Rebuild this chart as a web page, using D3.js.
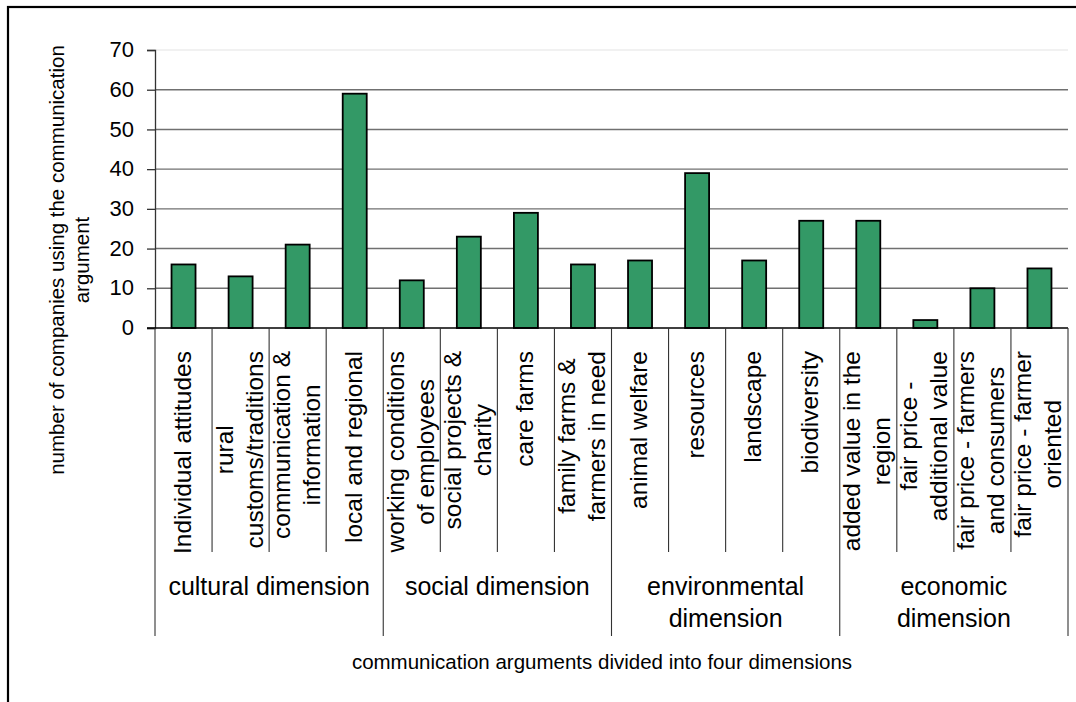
<!DOCTYPE html>
<html>
<head>
<meta charset="utf-8">
<script src="https://cdn.jsdelivr.net/npm/d3@7"></script>
<style>
  html, body { margin: 0; padding: 0; background: #fff; }
  svg { display: block; font-family: "Liberation Sans", Arial, sans-serif; }
</style>
</head>
<body>
<svg id="chart" width="1076" height="702"></svg>
<script>
// ---- data ----
const categories = [
  ["Individual attitudes"],
  ["rural", "customs/traditions"],
  ["communication &", "information"],
  ["local and regional"],
  ["working conditions", "of employees"],
  ["social projects &", "charity"],
  ["care farms"],
  ["family farms &", "farmers in need"],
  ["animal welfare"],
  ["resources"],
  ["landscape"],
  ["biodiversity"],
  ["added value in the", "region"],
  ["fair price -", "additional value"],
  ["fair price - farmers", "and consumers"],
  ["fair price - farmer", "oriented"]
];
const values = [16, 13, 21, 59, 12, 23, 29, 16, 17, 39, 17, 27, 27, 2, 10, 15];
const dimensions = [
  ["cultural dimension"],
  ["social dimension"],
  ["environmental", "dimension"],
  ["economic", "dimension"]
];
const dimensionSizes = [4, 4, 4, 4];
const yTicks = [0, 10, 20, 30, 40, 50, 60, 70];
const yTitle = ["number of companies using the communication", "argument"];
const xTitle = "communication arguments divided into four dimensions";

// ---- layout ----
const svg = d3.select("#chart");
const plotL = 155, plotR = 1068, plotT = 50, plotB = 328;

const x = d3.scaleBand().domain(d3.range(categories.length)).range([plotL, plotR]).padding(0);
const y = d3.scaleLinear().domain([0, 70]).range([plotB, plotT]);

// outer border (extends beyond the view on right/bottom)
svg.append("rect")
  .attr("x", 8).attr("y", 7).attr("width", 1200).attr("height", 900)
  .attr("fill", "none").attr("stroke", "#000").attr("stroke-width", 2.2);

// gridlines
svg.append("g").selectAll("line").data(yTicks.filter(d => d > 0)).join("line")
  .attr("x1", plotL).attr("x2", plotR)
  .attr("y1", d => y(d)).attr("y2", d => y(d))
  .attr("stroke", d => d === 70 ? "#ececec" : "#707070")
  .attr("stroke-width", 1.4);

// y axis
const yAxis = svg.append("g").attr("transform", `translate(${plotL},0)`)
  .call(d3.axisLeft(y).tickValues(yTicks).tickSize(8).tickPadding(13));
yAxis.select(".domain").attr("stroke", "#333").attr("stroke-width", 1.3);
yAxis.selectAll(".tick line").attr("stroke", "#333").attr("stroke-width", 1.3);
yAxis.selectAll(".tick text")
  .attr("font-family", "Liberation Sans, Arial, sans-serif")
  .attr("font-size", 22).attr("fill", "#000").attr("dy", "0.3em");

// bars
const bw = 24;
svg.append("g").selectAll("rect").data(values).join("rect")
  .attr("x", (d, i) => x(i) + x.bandwidth() / 2 - bw / 2)
  .attr("y", d => y(d))
  .attr("width", bw)
  .attr("height", d => y(0) - y(d))
  .attr("fill", "#339966")
  .attr("stroke", "#000")
  .attr("stroke-width", 1.8);

// x axis baseline
svg.append("line")
  .attr("x1", plotL - 8).attr("x2", plotR).attr("y1", y(0)).attr("y2", y(0))
  .attr("stroke", "#000").attr("stroke-width", 1.6);

// category dividers
const dimBounds = [0];
dimensionSizes.forEach(s => dimBounds.push(dimBounds[dimBounds.length - 1] + s));
const boundaryX = i => i < categories.length ? x(i) : x(categories.length - 1) + x.bandwidth();
svg.append("g").selectAll("line").data(d3.range(categories.length + 1)).join("line")
  .attr("x1", boundaryX).attr("x2", boundaryX)
  .attr("y1", y(0))
  .attr("y2", i => dimBounds.includes(i) ? 636 : 552)
  .attr("stroke", "#333").attr("stroke-width", 1.1);

// category labels (rotated)
const lineH = 30, catFont = 24.5, labelTop = 351;
const catG = svg.append("g");
categories.forEach((lines, i) => {
  const c = x(i) + x.bandwidth() / 2;
  const g = catG.append("g");
  const texts = lines.map((t, k) => g.append("text")
    .attr("font-size", catFont)
    .attr("text-anchor", "middle")
    .attr("y", -lines.length * lineH / 2 + k * lineH + 22)
    .text(t));
  const maxLen = d3.max(texts, t => t.node().getComputedTextLength());
  g.attr("transform", `translate(${c},${labelTop + maxLen / 2}) rotate(-90)`);
});

// dimension labels
const dimG = svg.append("g");
dimensions.forEach((lines, j) => {
  const x0 = boundaryX(dimBounds[j]), x1 = boundaryX(dimBounds[j + 1]);
  lines.forEach((t, k) => {
    dimG.append("text")
      .attr("x", (x0 + x1) / 2)
      .attr("y", 595 + k * 32)
      .attr("text-anchor", "middle")
      .attr("font-size", 25)
      .text(t);
  });
});

// y title
const yc = 260;
yTitle.forEach((t, k) => {
  svg.append("text")
    .attr("transform", `translate(${64 + k * 25},${yc}) rotate(-90)`)
    .attr("text-anchor", "middle")
    .attr("font-size", 20.5)
    .text(t);
});

// x title
svg.append("text")
  .attr("x", 602).attr("y", 669)
  .attr("text-anchor", "middle")
  .attr("font-size", 20.5)
  .text(xTitle);
</script>
</body>
</html>
